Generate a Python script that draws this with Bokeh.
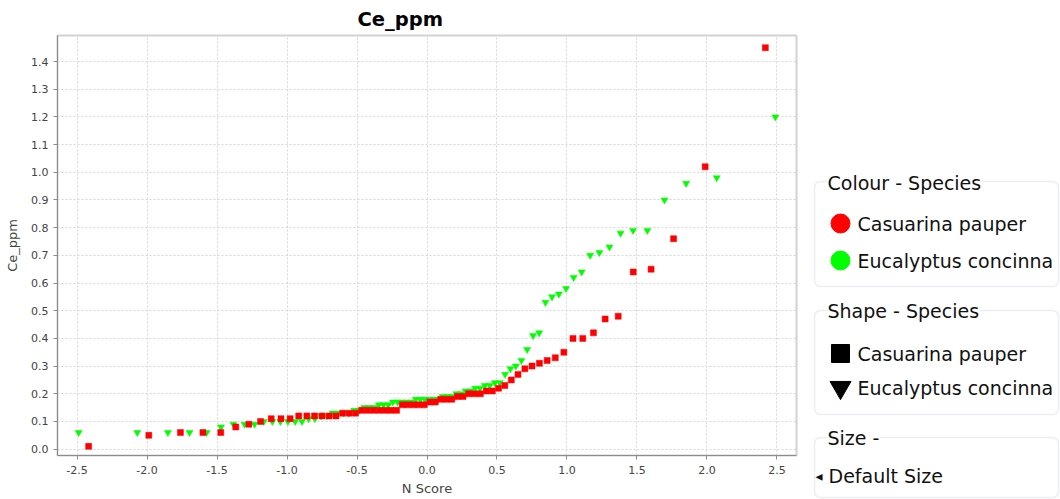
from statistics import NormalDist
from bokeh.plotting import figure
from bokeh.layouts import row, column
from bokeh.models import Range1d, FixedTicker, BoxAnnotation, Label, NumeralTickFormatter
from bokeh.embed import file_html
from bokeh.resources import INLINE

# ---------------- data ----------------
species = ["Casuarina pauper", "Eucalyptus concinna"]
colours = ["#ff0000", "#00ff00"]

casuarina_ce = [
    0.01, 0.05, 0.06, 0.06, 0.06, 0.08, 0.09, 0.10, 0.11, 0.11,
    0.11, 0.12, 0.12, 0.12, 0.12, 0.12, 0.12, 0.13, 0.13, 0.13,
    0.14, 0.14, 0.14, 0.14, 0.14, 0.14, 0.14, 0.16, 0.16, 0.16,
    0.16, 0.16, 0.17, 0.17, 0.18, 0.18, 0.18, 0.19, 0.19, 0.20,
    0.20, 0.20, 0.21, 0.21, 0.22, 0.23, 0.25, 0.27, 0.29, 0.30,
    0.31, 0.32, 0.33, 0.35, 0.40, 0.40, 0.42, 0.47, 0.48, 0.64,
    0.65, 0.76, 1.02, 1.45,
]

eucalyptus_ce = [
    0.06, 0.06, 0.06, 0.06, 0.06, 0.08, 0.09, 0.09, 0.09, 0.10,
    0.10, 0.10, 0.10, 0.10, 0.10, 0.11, 0.11, 0.12, 0.12, 0.13,
    0.13, 0.13, 0.13, 0.14, 0.14, 0.15, 0.15, 0.15, 0.16, 0.16,
    0.16, 0.17, 0.17, 0.17, 0.17, 0.17, 0.18, 0.18, 0.18, 0.18,
    0.18, 0.18, 0.19, 0.19, 0.19, 0.20, 0.20, 0.21, 0.21, 0.22,
    0.22, 0.23, 0.23, 0.24, 0.24, 0.27, 0.29, 0.30, 0.32, 0.36,
    0.41, 0.42, 0.53, 0.55, 0.56, 0.58, 0.62, 0.64, 0.70, 0.71,
    0.73, 0.78, 0.79, 0.79, 0.90, 0.96, 0.98, 1.20,
]

x_ticks = [-2.5, -2.0, -1.5, -1.0, -0.5, 0.0, 0.5, 1.0, 1.5, 2.0, 2.5]
y_ticks = [0.0, 0.1, 0.2, 0.3, 0.4, 0.5, 0.6, 0.7, 0.8, 0.9, 1.0, 1.1, 1.2, 1.3, 1.4]

title_text = "Ce_ppm"
x_label = "N Score"
y_label = "Ce_ppm"
legend_titles = ["Colour - Species", "Shape - Species", "Size -"]
size_entry = "Default Size"


def n_scores(values):
    """Normal scores (rankits) of the sorted values."""
    n = len(values)
    nd = NormalDist()
    return [nd.inv_cdf((i + 0.5) / n) for i in range(n)]


FONT = "DejaVu Sans"
H = 499
FRAME_TOP, FRAME_BOTTOM = 35, 455

# ---------------- main chart ----------------
p = figure(
    width=810, height=H,
    x_range=Range1d(-2.64, 2.64), y_range=Range1d(-0.023, 1.494),
    output_backend="svg", toolbar_location=None,
    min_border_left=57, min_border_right=14,
    min_border_top=FRAME_TOP, min_border_bottom=H - FRAME_BOTTOM,
)
p.background_fill_color = "white"
p.border_fill_color = "white"
p.outline_line_color = "#d2d2d2"
p.outline_line_width = 2

p.title.text = title_text
p.title.text_font = FONT
p.title.text_font_size = "19.5px"
p.title.text_font_style = "bold"
p.title.text_color = "#000000"
p.title.align = "left"
p.title.offset = 300

for ax in (p.xaxis[0], p.yaxis[0]):
    ax.axis_line_color = "#8c8c8c"
    ax.major_tick_line_color = "#8c8c8c"
    ax.major_tick_out = 4
    ax.major_tick_in = 0
    ax.minor_tick_line_color = None
    ax.major_label_text_font = FONT
    ax.major_label_text_font_size = "11px"
    ax.major_label_text_color = "#444444"
    ax.axis_label_text_font = FONT
    ax.axis_label_text_font_size = "13px"
    ax.axis_label_text_font_style = "normal"
    ax.axis_label_text_color = "#444444"
    ax.formatter = NumeralTickFormatter(format="0.0")

p.xaxis[0].ticker = FixedTicker(ticks=x_ticks)
p.yaxis[0].ticker = FixedTicker(ticks=y_ticks)
p.xaxis[0].axis_label = x_label
p.yaxis[0].axis_label = y_label
p.xaxis[0].major_label_standoff = 6
p.xaxis[0].axis_label_standoff = 4
p.yaxis[0].major_label_standoff = 5
p.yaxis[0].axis_label_standoff = 8

for g in (p.xgrid[0], p.ygrid[0]):
    g.grid_line_color = "#d6d6d6"
    g.grid_line_dash = "2 2"
    g.grid_line_width = 1

# green first (drawn underneath), then red
p.scatter(n_scores(eucalyptus_ce), eucalyptus_ce, marker="inverted_triangle",
          size=7, fill_color=colours[1], line_color=colours[1], line_width=0.5)
p.scatter(n_scores(casuarina_ce), casuarina_ce, marker="square",
          size=6, fill_color=colours[0], line_color=colours[0], line_width=0.5)

# ---------------- legend panel ----------------
leg = figure(
    width=250, height=H,
    x_range=Range1d(810, 1060), y_range=Range1d(0, H),
    output_backend="svg", toolbar_location=None,
    x_axis_location=None, y_axis_location=None,
    min_border=0, min_border_left=0, min_border_right=0,
    min_border_top=0, min_border_bottom=0,
)
leg.grid.visible = False
leg.outline_line_color = None
leg.background_fill_color = "white"
leg.border_fill_color = "white"


def Y(sy):
    return H - sy


boxes = [(181, 286), (310, 414), (437, 497)]
for top, bottom in boxes:
    leg.add_layout(BoxAnnotation(left=814, right=1058, top=Y(top), bottom=Y(bottom),
                                 fill_alpha=0, line_color="#bcc8d3", line_width=1.5,
                                 border_radius=6))

title_y = [182, 310, 437]
for t, ty in zip(legend_titles, title_y):
    leg.add_layout(Label(x=827, y=Y(ty), text=t, text_font=FONT, text_font_size="19px",
                         text_baseline="middle", text_color="#111111",
                         background_fill_color="white"))

# colour entries
colour_y = [223, 260]
leg.scatter([840, 840], [Y(v) for v in colour_y], marker="circle", size=19,
            fill_color=colours, line_color=colours)
for s, sy in zip(species, colour_y):
    leg.add_layout(Label(x=857, y=Y(sy), text=s, text_font=FONT, text_font_size="19px",
                         text_baseline="middle", text_color="#111111"))

# shape entries
shape_y = [353, 387]
leg.scatter([840], [Y(shape_y[0])], marker="square", size=18,
            fill_color="black", line_color="black")
leg.scatter([840], [Y(shape_y[1])], marker="inverted_triangle", size=21,
            fill_color="black", line_color="black")
for s, sy in zip(species, shape_y):
    leg.add_layout(Label(x=857, y=Y(sy), text=s, text_font=FONT, text_font_size="19px",
                         text_baseline="middle", text_color="#111111"))

# size entry
leg.add_layout(Label(x=815, y=Y(475), text="\u25c2", text_font=FONT, text_font_size="14px",
                     text_baseline="middle", text_color="#111111"))
leg.add_layout(Label(x=828, y=Y(475), text=size_entry, text_font=FONT, text_font_size="19px",
                     text_baseline="middle", text_color="#111111"))

layout = row(p, column(leg, spacing=0), spacing=0)
open("out.html", "w").write(file_html(layout, INLINE))
